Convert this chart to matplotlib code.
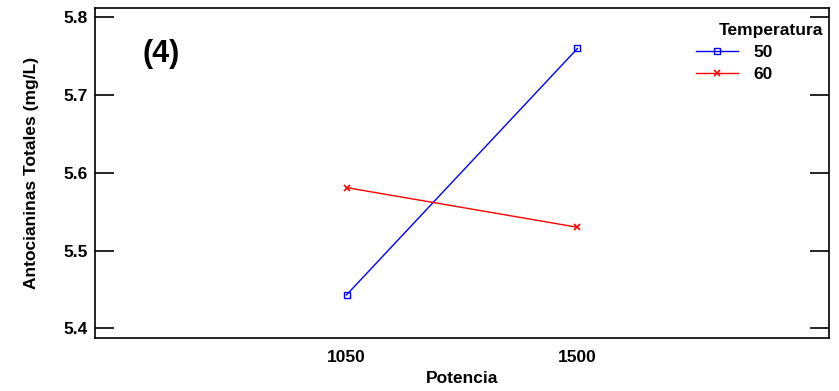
import matplotlib
matplotlib.use("Agg")
import matplotlib.pyplot as plt

potencia = [1050, 1500]
temp_labels = ["50", "60"]
values_50 = [5.443, 5.760]
values_60 = [5.581, 5.530]
yticks = [5.4, 5.5, 5.6, 5.7, 5.8]

plt.rcParams['font.family'] = ['Liberation Sans', 'DejaVu Sans']
plt.rcParams['font.weight'] = 'bold'

FS = 12.5
fig = plt.figure(figsize=(8.39, 3.91), dpi=100)
ax = fig.add_axes([95/839, 1 - 338/391, (829-95)/839, (338-8)/391])

l1, = ax.plot(potencia, values_50, color='blue', lw=1, marker='s', ms=4,
              mfc='none', mec='blue', mew=1, label=temp_labels[0])
l2, = ax.plot(potencia, values_60, color='red', lw=1, marker='x', ms=5,
              mec='red', mew=1.2, label=temp_labels[1])

ax.set_xlim(560, 1990)
ax.set_ylim(5.3876, 5.812)
ax.set_xticks(potencia)
ax.set_xticklabels([str(p) for p in potencia], fontsize=FS, fontweight='bold')
ax.set_yticks(yticks)
ax.set_yticklabels([f"{v:.1f}" for v in yticks], fontsize=FS, fontweight='bold')
ax.tick_params(axis='x', length=0, pad=9)
ax.tick_params(axis='y', direction='in', length=14, width=1.2, right=True, pad=5)
for s in ax.spines.values():
    s.set_linewidth(1.2)

ax.set_xlabel("Potencia", fontsize=FS, fontweight='bold', labelpad=4)
ax.set_ylabel("Antocianinas Totales (mg/L)", fontsize=FS, fontweight='bold', labelpad=18)

fig.text(143/839, 1 - 54/391, "(4)", fontsize=22, fontweight='bold', va='center', ha='left')

fig.text(823/839, 1 - 31/391, "Temperatura", fontsize=FS, fontweight='bold',
         ha='right', va='center')
leg = ax.legend(handles=[l1, l2], loc='upper left',
                bbox_to_anchor=(696/839, 1 - 45/391), bbox_transform=fig.transFigure,
                frameon=False, fontsize=FS, handlelength=2.4, handletextpad=0.9,
                labelspacing=0.4, borderaxespad=0, borderpad=0)

fig.savefig("out.png", dpi=100)
